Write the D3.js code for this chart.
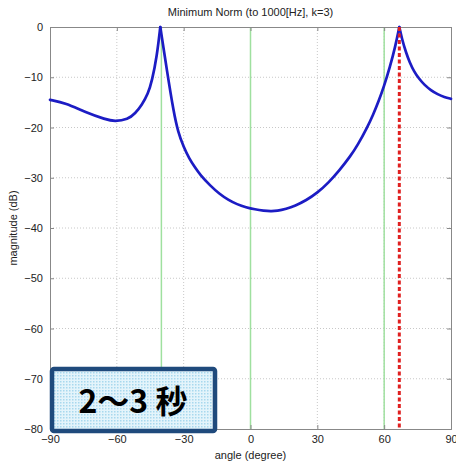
<!DOCTYPE html>
<html>
<head>
<meta charset="utf-8">
<script src="https://cdn.jsdelivr.net/npm/d3@7"></script>
<style>
  body { margin: 0; background: #fff; }
  svg { display: block; }
  .tick text { font-family: "Liberation Sans", "DejaVu Sans", sans-serif; font-size: 11px; fill: #222; }
</style>
</head>
<body>
<svg id="chart"></svg>
<script>
// Spectrum curve (angle in degrees, magnitude in dB)
const angles = [-90, -83, -74, -65, -61, -55, -51.75, -48.75, -46, -44.25, -42, -40.5,
  -37.5, -34.5, -32.5, -30, -27.5, -25, -22.5, -18, -14, -10, -6, -2, 2, 6, 9, 12,
  16, 20, 25, 30, 35, 40, 45, 48, 52.5, 55, 57.5, 60, 62.5, 65, 66.8,
  68, 69.75, 71.5, 73.5, 75.5, 78, 81, 84, 87, 90];
const magnitudes = [-14.5, -15.1, -17, -18.4, -18.8, -18.4, -17.2, -15.5, -13.3, -10.8, -5.8, 0,
  -8.7, -16.95, -20.95, -23.9, -26.2, -27.9, -29.5, -31.6, -33.2, -34.4, -35.3, -35.9, -36.3, -36.55, -36.65, -36.6,
  -36.2, -35.6, -34.5, -33.0, -31.0, -28.5, -25.6, -23.6, -19.9, -17.5, -14.8, -11.7, -8.1, -3.9, 0,
  -2.4, -5.0, -7.1, -8.9, -10.2, -11.5, -12.6, -13.4, -13.95, -14.3];

// Marker lines
const greenLines = [-40, 0, 60];
const redLine = 66.8;
const peaks = [-40.5, 66.8];

const xTicks = [-90, -60, -30, 0, 30, 60, 90];
const yTicks = [0, -10, -20, -30, -40, -50, -60, -70, -80];

const width = 456;
const height = 464;
const margin = { top: 27, right: 5, bottom: 35, left: 50 };
const innerWidth = width - margin.left - margin.right;
const innerHeight = height - margin.top - margin.bottom;

const svg = d3.select("#chart")
  .attr("width", width)
  .attr("height", height);

const xScale = d3.scaleLinear().domain([-90, 90]).range([0, innerWidth]);
const yScale = d3.scaleLinear().domain([-80, 0]).range([innerHeight, 0]);

const g = svg.append("g")
  .attr("transform", `translate(${margin.left}, ${margin.top})`);

// Dotted grid
g.selectAll(".vgrid")
  .data(xTicks.slice(1, -1))
  .enter()
  .append("line")
  .attr("x1", d => xScale(d)).attr("x2", d => xScale(d))
  .attr("y1", 0).attr("y2", innerHeight)
  .attr("stroke", "#c8c8c8").attr("stroke-width", 1)
  .attr("stroke-dasharray", "1,2");

g.selectAll(".hgrid")
  .data(yTicks.slice(1, -1))
  .enter()
  .append("line")
  .attr("x1", 0).attr("x2", innerWidth)
  .attr("y1", d => yScale(d)).attr("y2", d => yScale(d))
  .attr("stroke", "#c8c8c8").attr("stroke-width", 1)
  .attr("stroke-dasharray", "1,2");

// Green marker lines
g.selectAll(".green")
  .data(greenLines)
  .enter()
  .append("line")
  .attr("x1", d => xScale(d)).attr("x2", d => xScale(d))
  .attr("y1", 0).attr("y2", innerHeight)
  .attr("stroke", "#9fe09f").attr("stroke-width", 1.5);

// Axes (matlab-like, inward ticks on all four sides)
const axisColor = "#888";
const minus = d => String(d).replace("-", "\u2212");
const xAxisB = d3.axisBottom(xScale).tickValues(xTicks).tickSize(-4).tickPadding(6).tickFormat(minus);
const xAxisT = d3.axisTop(xScale).tickValues(xTicks).tickSize(-4);
const yAxisL = d3.axisLeft(yScale).tickValues(yTicks).tickSize(-4).tickPadding(7).tickFormat(minus);
const yAxisR = d3.axisRight(yScale).tickValues(yTicks).tickSize(-4);

g.append("g").attr("transform", `translate(0, ${innerHeight})`).call(xAxisB);
g.append("g").call(xAxisT).selectAll("text").remove();
g.append("g").call(yAxisL);
g.append("g").attr("transform", `translate(${innerWidth}, 0)`).call(yAxisR).selectAll("text").remove();
g.selectAll(".domain, .tick line").attr("stroke", axisColor);

// Curve: smooth pieces joined at the two sharp peaks
const pts = angles.map((a, i) => [a, magnitudes[i]]);
const segments = [
  pts.filter(p => p[0] <= peaks[0]),
  pts.filter(p => p[0] >= peaks[0] && p[0] <= peaks[1]),
  pts.filter(p => p[0] >= peaks[1])
];

const line = d3.line()
  .x(d => xScale(d[0]))
  .y(d => yScale(d[1]))
  .curve(d3.curveBasis);

g.selectAll(".curve")
  .data(segments)
  .enter()
  .append("path")
  .attr("fill", "none")
  .attr("stroke", "#1c1cc4")
  .attr("stroke-width", 2.7)
  .attr("stroke-linejoin", "round")
  .attr("stroke-linecap", "round")
  .attr("d", line);

// Red dashed marker
g.append("line")
  .attr("x1", xScale(redLine)).attr("x2", xScale(redLine))
  .attr("y1", yScale(0)).attr("y2", yScale(-80))
  .attr("stroke", "#e02020").attr("stroke-width", 3)
  .attr("stroke-dasharray", "4,2.5");

// Title and axis labels
svg.append("text")
  .attr("x", margin.left + innerWidth / 2).attr("y", 16)
  .attr("text-anchor", "middle")
  .style("font-family", "Liberation Sans, DejaVu Sans, sans-serif")
  .style("font-size", "11px").attr("fill", "#222")
  .text("Minimum Norm (to 1000[Hz], k=3)");

svg.append("text")
  .attr("x", margin.left + innerWidth / 2).attr("y", 459)
  .attr("text-anchor", "middle")
  .style("font-family", "Liberation Sans, DejaVu Sans, sans-serif")
  .style("font-size", "11px").attr("fill", "#222")
  .text("angle (degree)");

svg.append("text")
  .attr("transform", `translate(17, ${margin.top + innerHeight / 2}) rotate(-90)`)
  .attr("text-anchor", "middle")
  .style("font-family", "Liberation Sans, DejaVu Sans, sans-serif")
  .style("font-size", "11px").attr("fill", "#222")
  .text("magnitude (dB)");

// Callout box with dotted light-blue fill
const defs = svg.append("defs");
const pat = defs.append("pattern")
  .attr("id", "dots")
  .attr("width", 3).attr("height", 3)
  .attr("patternUnits", "userSpaceOnUse");
pat.append("rect").attr("width", 3).attr("height", 3).attr("fill", "#e4f4fb");
pat.append("rect").attr("width", 1.5).attr("height", 1.5).attr("fill", "#a8d8ee");

svg.append("rect")
  .attr("x", 52).attr("y", 369)
  .attr("width", 163).attr("height", 62)
  .attr("rx", 2)
  .attr("fill", "url(#dots)")
  .attr("stroke", "#1f4a7c")
  .attr("stroke-width", 4.5);

svg.append("text")
  .attr("x", 133).attr("y", 413)
  .attr("text-anchor", "middle")
  .style("font-family", "Noto Sans CJK JP, sans-serif")
  .style("font-weight", "bold")
  .style("font-size", "32px")
  .attr("fill", "#000")
  .text("2～3 秒");
</script>
</body>
</html>
